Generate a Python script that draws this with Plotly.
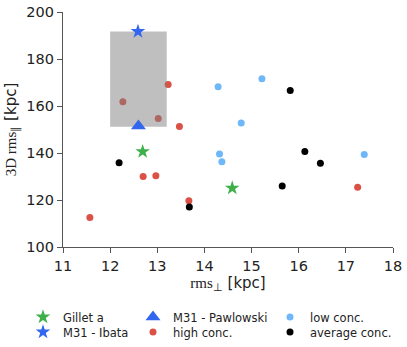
import plotly.graph_objects as go

# ---- data ----
gillet_x = [12.69, 14.59]
gillet_y = [140.6, 125.1]
ibata_x = [12.59]
ibata_y = [191.7]
pawlowski_x = [12.6]
pawlowski_y = [151.5]
high_x = [12.27, 13.23, 13.02, 13.47, 11.57, 12.70, 12.97, 13.67, 17.25]
high_y = [161.8, 169.1, 154.7, 151.3, 112.6, 130.0, 130.3, 119.7, 125.4]
low_x = [14.29, 15.22, 14.78, 14.32, 14.37, 17.39]
low_y = [168.2, 171.6, 152.8, 139.6, 136.3, 139.4]
avg_x = [12.19, 13.68, 15.82, 16.13, 16.46, 15.65]
avg_y = [135.9, 117.0, 166.6, 140.6, 135.6, 126.0]
rect_x = [12.0, 13.2]
rect_y = [151.2, 191.7]

x_ticks = [11, 12, 13, 14, 15, 16, 17, 18]
y_ticks = [100, 120, 140, 160, 180, 200]

GREEN = "#3db049"
BLUE = "#3366ee"
RED = "#db5145"
LIGHT = "#6eb8fa"
BLACK = "#000000"

fig = go.Figure()

fig.add_trace(go.Scatter(x=high_x, y=high_y, mode="markers", name="high conc.",
                         marker=dict(color=RED, size=7, line=dict(width=0)),
                         legend="legend5"))
fig.add_trace(go.Scatter(
    x=[rect_x[0], rect_x[1], rect_x[1], rect_x[0], rect_x[0]],
    y=[rect_y[0], rect_y[0], rect_y[1], rect_y[1], rect_y[0]],
    mode="lines", fill="toself", fillcolor="rgba(128,128,128,0.5)",
    line=dict(width=0), showlegend=False, hoverinfo="skip"))
fig.add_trace(go.Scatter(x=low_x, y=low_y, mode="markers", name="low conc.",
                         marker=dict(color=LIGHT, size=7, line=dict(width=0)),
                         legend="legend3"))
fig.add_trace(go.Scatter(x=avg_x, y=avg_y, mode="markers", name="average conc.",
                         marker=dict(color=BLACK, size=7, line=dict(width=0)),
                         legend="legend6"))
fig.add_trace(go.Scatter(x=gillet_x, y=gillet_y, mode="markers", name="Gillet a",
                         marker=dict(color=GREEN, size=11, symbol="star", line=dict(width=0)),
                         legend="legend"))
fig.add_trace(go.Scatter(x=ibata_x, y=ibata_y, mode="markers", name="M31 - Ibata",
                         marker=dict(color=BLUE, size=11, symbol="star", line=dict(width=0)),
                         legend="legend4"))
fig.add_trace(go.Scatter(x=pawlowski_x, y=pawlowski_y, mode="markers", name="M31 - Pawlowski",
                         marker=dict(color=BLUE, size=13, symbol="triangle-up", line=dict(width=0)),
                         legend="legend2"))

L, R, T, B = 63, 14, 12, 100
W, H = 407, 347
pw = W - L - R
ph = H - T - B


def px2paper_x(px):
    return (px - L) / pw


def py2paper_y(py):
    return (H - B - py) / ph


legfont = dict(family="DejaVu Sans", size=11.5, color="#222222")
col_px = [23, 133, 270]
row_py = [317, 332]
positions = {
    "legend": (col_px[0], row_py[0]),
    "legend2": (col_px[1], row_py[0]),
    "legend3": (col_px[2], row_py[0]),
    "legend4": (col_px[0], row_py[1]),
    "legend5": (col_px[1], row_py[1]),
    "legend6": (col_px[2], row_py[1]),
}
legends = {}
for k, (lx, ly) in positions.items():
    legends[k] = dict(x=px2paper_x(lx), y=py2paper_y(ly), xanchor="left", yanchor="middle",
                      font=legfont, bgcolor="rgba(0,0,0,0)", borderwidth=0,
                      itemsizing="trace", tracegroupgap=0, itemclick=False)

axis_common = dict(showgrid=False, zeroline=False, showline=True, linecolor="#555555",
                   linewidth=1.2, ticks="outside", ticklen=5, tickcolor="#555555",
                   tickfont=dict(family="DejaVu Sans", size=14.5, color="#222222"),
                   mirror=False, automargin=False)

fig.update_layout(
    width=W, height=H,
    margin=dict(l=L, r=R, t=T, b=B, autoexpand=False),
    paper_bgcolor="white", plot_bgcolor="white",
    xaxis=dict(range=[11, 18], tickvals=x_ticks, ticktext=[str(v) for v in x_ticks],
               title=dict(text="<span style='font-family:Liberation Serif'>rms<sub>⊥</sub></span> [kpc]",
                          font=dict(family="DejaVu Sans", size=15, color="#222222"), standoff=4),
               **axis_common),
    yaxis=dict(range=[100, 200], tickvals=y_ticks, ticktext=[str(v) for v in y_ticks],
               title=dict(text="<span style='font-family:Liberation Serif'>3D rms<sub>∥</sub></span> [kpc]",
                          font=dict(family="DejaVu Sans", size=15, color="#222222"), standoff=6),
               **axis_common),
    showlegend=True,
    **legends,
)

fig.write_html("out.html", config={"displayModeBar": False},
               post_script="document.body.style.margin='0';")
